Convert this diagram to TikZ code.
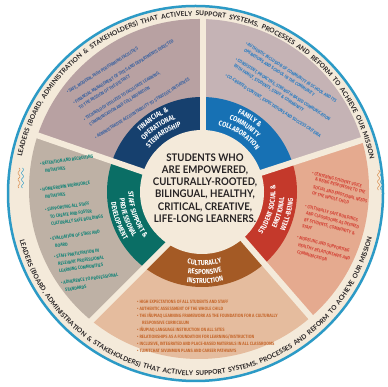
\documentclass[tikz,border=0pt]{standalone}
\usepackage{fontspec}
\usetikzlibrary{decorations.text}
\newfontfamily\latof{Lato}
\newfontfamily\hubf[FakeStretch=0.92]{Lato}
\newfontfamily\condf[FakeStretch=0.85]{Fira Sans}
\newcommand\lblf{\condf\bfseries\fontsize{7.2}{8}\selectfont}
\newcommand\rimf{\latof\bfseries\fontsize{6.6}{8}\selectfont}
\definecolor{cream}{HTML}{F4EADA}
\definecolor{rimblue}{HTML}{2C9AC6}
\definecolor{wFin}{HTML}{B8A1A2}
\definecolor{wFam}{HTML}{C5B3B5}
\definecolor{wRed}{HTML}{E5AA8F}
\definecolor{wBrn}{HTML}{E5BC9E}
\definecolor{wTeal}{HTML}{BEB1A5}
\definecolor{rFin}{HTML}{16406E}
\definecolor{rFam}{HTML}{1771B4}
\definecolor{rRed}{HTML}{C4392B}
\definecolor{rBrn}{HTML}{A45A25}
\definecolor{rTeal}{HTML}{0A6E65}
\definecolor{tFin}{HTML}{3F64A0}
\definecolor{tFam}{HTML}{2E7EC2}
\definecolor{tRed}{HTML}{D4483A}
\definecolor{tBrn}{HTML}{C66A30}
\definecolor{tTeal}{HTML}{168478}
\definecolor{ink}{HTML}{262223}
\definecolor{wavO}{HTML}{D98B4B}
\begin{document}
\begin{tikzpicture}[x=1pt,y=1pt,
  bul/.style={font=\condf\bfseries\fontsize{4.7}{5}\selectfont, inner sep=0pt, anchor=west},
  lbl/.style={decorate, decoration={text along path, text align=center, text color=white}},
  rim/.style={decorate, decoration={text along path, text align={fit to path stretching spaces}, text color=ink}},
  divider/.style={cream, line width=6pt},
  wave/.style={line width=0.5pt}]
\useasboundingbox (0,0) rectangle (387,387);
\fill[white] (0,0) rectangle (387,387);
\coordinate (O) at (195.5,193.5);
\coordinate (W) at (199,198);
\coordinate (C) at (202,195);
\coordinate (T0) at (203,195);
\coordinate (T1) at (203,595);
\coordinate (F2) at (582.4,318.6);
\coordinate (F3) at (464.4,-106.9);
\coordinate (P4) at (185,160);
\coordinate (F4) at (-137,-162);
\coordinate (F5) at (-176.2,325.2);
\def\pFin{(C) -- (T0) -- (T1) -- (-400,600) -- (F5) -- cycle}
\def\pFam{(C) -- (F2) -- (700,600) -- (T1) -- (T0) -- cycle}
\def\pRed{(C) -- (F3) -- (700,-107) -- (700,319) -- (F2) -- cycle}
\def\pBrn{(C) -- (P4) -- (F4) -- (-137,-400) -- (464,-400) -- (F3) -- cycle}
\def\pTeal{(C) -- (F5) -- (-400,325) -- (-400,-162) -- (F4) -- (P4) -- cycle}
% outer disc
\fill[cream] (O) circle[radius=188];
\draw[rimblue, line width=2.5pt] (O) circle[radius=187.5];
% wedges
\begin{scope}
  \clip (W) circle[radius=170];
  \fill[wFin] \pFin;
  \fill[wFam] \pFam;
  \fill[wRed] \pRed;
  \fill[wBrn] \pBrn;
  \fill[wTeal] \pTeal;
\end{scope}
% inner ring
\begin{scope}
  \clip (C) circle[radius=95];
  \fill[rFin] \pFin;
  \fill[rFam] \pFam;
  \fill[rRed] \pRed;
  \fill[rBrn] \pBrn;
  \fill[rTeal] \pTeal;
\end{scope}
% dividers
\begin{scope}
  \clip (W) circle[radius=171];
  \draw[divider] (T0) -- (T1);
  \draw[divider] (C) -- (F2);
  \draw[divider] (C) -- (F3);
  \draw[divider] (P4) -- (F4);
  \draw[divider] (C) -- (F5);
\end{scope}
\fill[cream] (C) circle[radius=62];
% hub text
\node (hub) at (205,199) [align=center, text=ink, inner sep=0pt,
  font=\hubf\bfseries\fontsize{10.5}{12.3}\selectfont]
  {STUDENTS WHO\\ARE EMPOWERED,\\CULTURALLY-ROOTED,\\BILINGUAL, HEALTHY,\\CRITICAL, CREATIVE,\\LIFE-LONG LEARNERS.};
% rim text
\path[rim, decoration={text={|\rimf|LEADERS (BOARD, ADMINISTRATION {\&} STAKEHOLDERS) THAT ACTIVELY SUPPORT SYSTEMS, PROCESSES AND REFORM TO ACHIEVE OUR MISSION}}]
  ([shift={(O)}]168:177.5) arc[start angle=168, end angle=11, radius=177.5];
\path[rim, decoration={text={|\rimf|LEADERS (BOARD, ADMINISTRATION {\&} STAKEHOLDERS) THAT ACTIVELY SUPPORT SYSTEMS, PROCESSES AND REFORM TO ACHIEVE OUR MISSION}}]
  ([shift={(O)}]195:182) arc[start angle=195, end angle=346, radius=182];
% small waves
\draw[wave, wavO] plot[domain=0:20, samples=40] ({19+1*sin(\x*54)}, {219-\x});
\draw[wave, rimblue] plot[domain=0:20, samples=40] ({22.5+1*sin(\x*54)}, {219-\x});
\draw[wave, wavO] plot[domain=0:20, samples=40] ({378.5+1*sin(\x*54)}, {217-\x});
\draw[wave, rimblue] plot[domain=0:20, samples=40] ({381.5+1*sin(\x*54)}, {217-\x});
% ring labels
\path[lbl, decoration={text={|\lblf|FINANCIAL {\&}}}] ([shift={(C)}]164:86.5) arc[start angle=164, end angle=84, radius=86.5];
\path[lbl, decoration={text={|\lblf|OPERATIONAL}}] ([shift={(C)}]164:77.5) arc[start angle=164, end angle=84, radius=77.5];
\path[lbl, decoration={text={|\lblf|STEWARDSHIP}}] ([shift={(C)}]164:68.5) arc[start angle=164, end angle=84, radius=68.5];
\path[lbl, decoration={text={|\lblf|FAMILY {\&}}}] ([shift={(C)}]97:86.5) arc[start angle=97, end angle=17, radius=86.5];
\path[lbl, decoration={text={|\lblf|COMMUNITY}}] ([shift={(C)}]97:77.5) arc[start angle=97, end angle=17, radius=77.5];
\path[lbl, decoration={text={|\lblf|COLLABORATION}}] ([shift={(C)}]97:68.5) arc[start angle=97, end angle=17, radius=68.5];
\path[lbl, decoration={text={|\lblf|STUDENT SOCIAL {\&}}}] ([shift={(C)}]-55:73.5) arc[start angle=-55, end angle=25, radius=73.5];
\path[lbl, decoration={text={|\lblf|EMOTIONAL}}] ([shift={(C)}]-55:82.5) arc[start angle=-55, end angle=25, radius=82.5];
\path[lbl, decoration={text={|\lblf|WELL-BEING}}] ([shift={(C)}]-55:91.5) arc[start angle=-55, end angle=25, radius=91.5];
\path[lbl, decoration={text={|\lblf|CULTURALLY}}] ([shift={(C)}]-128:73.5) arc[start angle=-128, end angle=-48, radius=73.5];
\path[lbl, decoration={text={|\lblf|RESPONSIVE}}] ([shift={(C)}]-128:82.5) arc[start angle=-128, end angle=-48, radius=82.5];
\path[lbl, decoration={text={|\lblf|INSTRUCTION}}] ([shift={(C)}]-128:91.5) arc[start angle=-128, end angle=-48, radius=91.5];
\path[lbl, decoration={text={|\lblf|STAFF SUPPORT {\&}}}] ([shift={(C)}]159:73.5) arc[start angle=159, end angle=239, radius=73.5];
\path[lbl, decoration={text={|\lblf|PROFESSIONAL}}] ([shift={(C)}]159:82.5) arc[start angle=159, end angle=239, radius=82.5];
\path[lbl, decoration={text={|\lblf|DEVELOPMENT}}] ([shift={(C)}]159:91.5) arc[start angle=159, end angle=239, radius=91.5];
% financial bullets
\begin{scope}[shift={(67,294)}, rotate=32, transform shape]
  \foreach \d/\t [count=\i] in {0/{\textbullet\ SAFE, MODERN, HIGH PERFORMING FACILITIES},
    12/{\textbullet\ FINANCIAL MANAGEMENT OF SITES AND DEPARTMENTS DIRECTED},
    19/{\phantom{\textbullet\ }TO THE MISSION OF THE DISTRICT},
    32/{\textbullet\ TECHNOLOGY UTILIZED TO FACILITATE LEARNING,},
    39/{\phantom{\textbullet\ }COMMUNICATION AND COLLABORATION},
    53/{\textbullet\ ADMINISTRATIVE ACCOUNTABILITY TO STRATEGIC INITIATIVES}}
    \node (fin\i) [bul, text=tFin] at (0,-\d) {\t};
\end{scope}
% family bullets
\begin{scope}[shift={(246,344)}, rotate=-33, transform shape]
  \foreach \d/\t [count=\i] in {0/{\textbullet\ AUTHENTIC INCLUSION OF COMMUNITY IN SCHOOL AND ITS},
    6.5/{\phantom{\textbullet\ }OPERATIONS AND SCHOOL IN THE COMMUNITY},
    19/{\textbullet\ CONSISTENT, PROACTIVE, STRENGTH-BASED COMMUNICATION},
    25.5/{\phantom{\textbullet\ }WITH FAMILY, STUDENTS, STAFF \& COMMUNITY},
    38/{\textbullet\ CO-CREATED CONTENT, EXPECTATIONS AND SUCCESS CRITERIA}}
    \node (fam\i) [bul, text=tFam] at (0,-\d) {\t};
\end{scope}
% red bullets
\foreach \x/\y/\t [count=\i] in {312/173/{\textbullet\ CENTERING STUDENT VOICE},
    315/179/{\& BEING RESPONSIVE TO THE},
    313/187/{SOCIAL AND EMOTIONAL NEEDS},
    312/193/{OF THE WHOLE CHILD},
    305/206/{\textbullet\ CULTURALLY SAFE BUILDINGS},
    306/213/{AND CLASSROOMS AS DEFINED},
    304/220/{BY STUDENTS, COMMUNITY \&},
    302/226/{STAFF},
    297/237/{\textbullet\ MODELING AND SUPPORTING},
    298/245/{HEALTHY RELATIONSHIPS AND},
    297/252/{COMMUNICATION}}
  \node (red\i) [bul, text=tRed, rotate=-15] at (\x,{387-\y}) {\t};
% brown bullets
\foreach \x/\y/\t [count=\i] in {137/302/{\textbullet\ HIGH EXPECTATIONS OF ALL STUDENTS AND STAFF},
    137/309/{\textbullet\ AUTHENTIC ASSESSMENT OF THE WHOLE CHILD},
    137/316/{\textbullet\ THE IÑUPIAQ LEARNING FRAMEWORK AS THE FOUNDATION FOR A CULTURALLY},
    142/323/{RESPONSIVE CURRICULUM},
    137/330/{\textbullet\ IÑUPIAQ LANGUAGE INSTRUCTION ON ALL SITES},
    137/337/{\textbullet\ RELATIONSHIPS AS A FOUNDATION FOR LEARNING/INSTRUCTION},
    137/344/{\textbullet\ INCLUSIVE, INTEGRATED AND PLACE-BASED MATERIALS IN ALL CLASSROOMS},
    137/351/{\textbullet\ TUMITCHAT SIVUNMUN PLANS AND CAREER PATHWAYS}}
  \node (brn\i) [bul, text=tBrn] at (\x,{387-\y}) {\t};
% teal bullets
\foreach \x/\y/\t [count=\i] in {40/164/{\textbullet\ RETENTION AND RECRUITING},
    45/171/{INITIATIVES},
    40/190/{\textbullet\ HOMEGROWN WORKFORCE},
    45/197/{INITIATIVES},
    45/210/{\textbullet\ SUPPORTING ALL STAFF},
    50/217/{TO CREATE AND FOSTER},
    51/224/{CULTURALLY SAFE BUILDINGS},
    50/239/{\textbullet\ EVALUATION OF STAFF AND},
    55/246/{BOARD},
    54/257/{\textbullet\ STAFF PARTICIPATION IN},
    58/264/{RELEVANT PROFESSIONAL},
    59/271/{LEARNING COMMUNITIES},
    61/283/{\textbullet\ ADHERENCE TO PROFESSIONAL},
    65/290/{STANDARDS}}
  \node (tea\i) [bul, text=tTeal, rotate=8] at (\x,{387-\y}) {\t};
\end{tikzpicture}
\end{document}
